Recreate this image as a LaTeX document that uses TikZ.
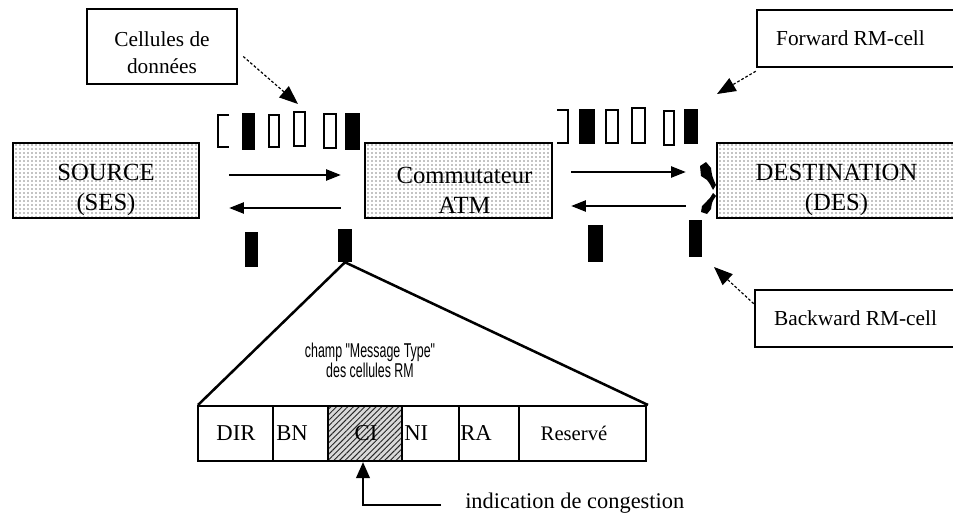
\documentclass[tikz,border=0pt]{standalone}
\usepackage{fontspec}
\setmainfont{Liberation Serif}
\newfontfamily\narrowsans{Liberation Sans}
\usetikzlibrary{arrows.meta,patterns.meta}

\tikzset{
  station/.style={draw, line width=1.9pt, fill=white,
    postaction={pattern={Dots[distance=3pt,radius=0.42pt]}, pattern color=black},
    minimum height=56.25pt, inner sep=0pt, align=center,
    font=\fontsize{18.5}{22.5}\selectfont},
  callout/.style={draw, line width=1.9pt, fill=white, inner sep=0pt,
    align=center, font=\fontsize{16}{20}\selectfont},
  fullcell/.style={fill=black, inner sep=0pt},
  emptycell/.style={draw, line width=1.5pt, fill=white, inner sep=0pt},
  flow/.style={line width=1pt, -{Triangle[length=11pt,width=8.5pt]}},
  pointer/.style={line width=0.9pt, dash pattern=on 2pt off 1.5pt,
    -{Triangle[length=14pt,width=11pt]}},
  field/.style={inner sep=0pt, font=\fontsize{17}{20}\selectfont},
}
% strut that pushes a two-line label down inside its box
\newcommand\lowerstrut[1]{\rule{0pt}{#1}}

\begin{document}
\begin{tikzpicture}[x=0.75pt, y=-0.75pt]
\clip (0,0) rectangle (953,517);
\fill[white] (0,0) rectangle (953,517);

% end systems and switch
\node[station, minimum width=139.5pt] (src) at (106,180.5)
  {\lowerstrut{27pt}SOURCE\\(SES)};
\node[station, minimum width=140.25pt] (atm) at (458.5,180.5)
  {\lowerstrut{27pt}\hspace*{9pt}Commutateur\\\hspace*{9pt}ATM};
\node[station, minimum width=179.25pt] (des) at (836.5,180.5)
  {\lowerstrut{27pt}DESTINATION\\(DES)};

% callout boxes
\node[callout, minimum width=112.5pt, minimum height=56pt] (cel) at (162,46.5)
  {\lowerstrut{20pt}Cellules de\\données};
\node[callout, minimum width=149.25pt, minimum height=42.75pt] (fwd) at (856.5,38.5)
  {\hspace*{-9pt}Forward RM-cell};
\node[callout, minimum width=150.75pt, minimum height=42.75pt] (bwd) at (855.5,318.5)
  {Backward RM-cell};

% cells between source and switch
\draw[line width=1.5pt] (229,115) -- (218,115) -- (218,147) -- (229,147);
\node[fullcell, minimum width=9.75pt, minimum height=27.75pt] (d1) at (248.5,131.5) {};
\node[emptycell, minimum width=7.5pt, minimum height=24pt] (d2) at (274,131) {};
\node[emptycell, minimum width=8.25pt, minimum height=25.5pt] (d3) at (299.5,129) {};
\node[emptycell, minimum width=9pt, minimum height=25.5pt] (d4) at (330,131) {};
\node[fullcell, minimum width=11.25pt, minimum height=27.75pt] (d5) at (352.5,131.5) {};

% cells between switch and destination
\draw[line width=1.5pt] (557,110) -- (568,110) -- (568,143) -- (557,143);
\node[fullcell, minimum width=12pt, minimum height=26.25pt] (e1) at (587,126.5) {};
\node[emptycell, minimum width=9pt, minimum height=24.75pt] (e2) at (612,126.5) {};
\node[emptycell, minimum width=9.75pt, minimum height=26.25pt] (e3) at (638.5,125.5) {};
\node[emptycell, minimum width=7.5pt, minimum height=25.5pt] (e4) at (669,128) {};
\node[fullcell, minimum width=10.5pt, minimum height=26.25pt] (e5) at (691,126.5) {};

% backward RM cells
\node[fullcell, minimum width=9.75pt, minimum height=26.25pt] (r1) at (251.5,249.5) {};
\node[fullcell, minimum width=10.5pt, minimum height=24.75pt] (rm) at (345,245.5) {};
\node[fullcell, minimum width=11.25pt, minimum height=27.75pt] (r3) at (595,243.5) {};
\node[fullcell, minimum width=9.75pt, minimum height=27.75pt] (r4) at (695,238) {};

% flows
\draw[flow] ([shift={(29,-5.5)}]src.east) -- ([shift={(-23,-5.5)}]atm.west);
\draw[flow] ([shift={(-23,27.5)}]atm.west) -- ([shift={(29,27.5)}]src.east);
\draw[flow] ([shift={(18,-8.5)}]atm.east) -- ([shift={(-30,-8.5)}]des.west);
\draw[flow] ([shift={(-30,25.5)}]des.west) -- ([shift={(18,25.5)}]atm.east);

% turnaround marks at the destination
\fill (700,166) -- (706,162) -- (711,168) .. controls (712,176) .. (716,185)
  -- (713,190) .. controls (710,184) .. (707,180) -- (701,176) -- cycle;
\fill (713,193) -- (716,196) .. controls (712,202) .. (711,209)
  -- (707,214) -- (701,212) -- (702,206) -- (707,201) .. controls (710,198) .. cycle;

% callout pointers
\coordinate (celtip) at (298,104);
\coordinate (fwdtip) at (717,94);
\coordinate (bwdtip) at (714,267);
\draw[pointer] ([shift={(5,10)}]cel.east) -- (celtip);
\draw[pointer] ([shift={(0,3)}]fwd.south west) -- (fwdtip);
\draw[pointer] ([shift={(0,15)}]bwd.north west) -- (bwdtip);

% RM cell "Message Type" field
\coordinate (tl) at (198,405);
\coordinate (tr) at (648,405);
\draw[line width=1.9pt, line join=round] (tl) -- (rm.south) -- (tr);
\fill[gray!30] (328,406) rectangle (402,461);
\fill[pattern={Lines[angle=45,distance=3pt,line width=0.7pt]}, pattern color=black!85]
  (328,406) rectangle (402,461);
\draw[line width=1.6pt] (198,406) rectangle (646,461);
\foreach \xx in {273,328,402,459,519}
  \draw[line width=1.6pt] (\xx,406) -- (\xx,461);

\node[field] (fdir) at (236,433) {DIR};
\node[field, anchor=west] (fbn) at (276,433) {BN};
\node[field] (fci) at (366,433) {CI};
\node[field, anchor=west] (fni) at (404,433) {NI};
\node[field, anchor=west] (fra) at (460,433) {RA};
\node[field, font=\fontsize{15.5}{18}\selectfont] (fres) at (574,433) {Reservé};

\node[inner sep=0pt] (msg) at (370,363)
  {\scalebox{0.62}[1]{\narrowsans\fontsize{15}{14.5}\selectfont
   \begin{tabular}{@{}c@{}}champ "Message Type"\\des cellules RM\end{tabular}}};

% congestion indication
\node[inner sep=0pt, anchor=west, font=\fontsize{16.8}{20}\selectfont] (ind) at (465,503)
  {indication de congestion};
\coordinate (citip) at (363,462);
\draw[line width=1.9pt, -{Triangle[length=12pt,width=10pt]}]
  ([xshift=-18]ind.west |- 0,505) -| (citip);
\end{tikzpicture}
\end{document}
